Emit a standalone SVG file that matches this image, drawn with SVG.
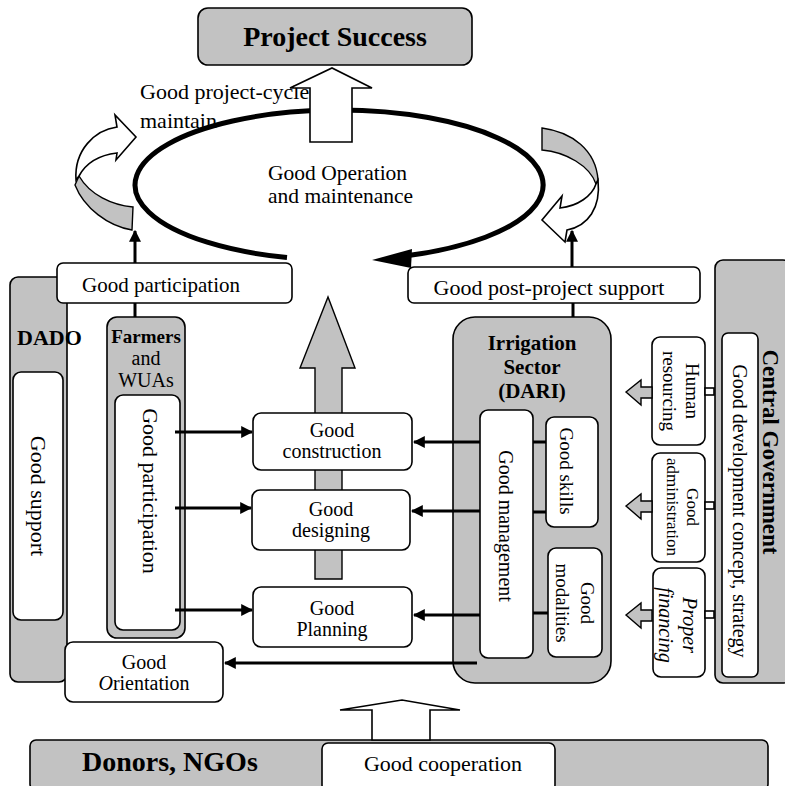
<svg xmlns="http://www.w3.org/2000/svg" width="785" height="786" viewBox="0 0 785 786">
<defs>
<style>
.bg{fill:#ffffff}
.panel{fill:#c2c2c2;stroke:#000;stroke-width:1.6}
.box{fill:#fff;stroke:#000;stroke-width:1.6}
.t{font-family:"Liberation Serif","Times New Roman",serif;fill:#000}
.b{font-weight:bold}
.mid{text-anchor:middle}
.ln{stroke:#000;stroke-width:3;fill:none}
.thin{stroke:#000;stroke-width:1.6;fill:none}
.hollow{fill:#fff;stroke:#000;stroke-width:1.6}
.garrow{fill:#c2c2c2;stroke:#000;stroke-width:1.4}
</style>
<marker id="ah" viewBox="0 0 10 10" refX="9" refY="5" markerWidth="4" markerHeight="4" orient="auto" markerUnits="strokeWidth">
<path d="M0,0 L10,5 L0,10 Z" fill="#000"/>
</marker>
</defs>
<rect class="bg" x="0" y="0" width="785" height="786"/>

<g id="project-success">
<rect class="panel" x="198" y="8" width="274" height="57" rx="10"/>
<text class="t b mid" x="335" y="46" font-size="28">Project Success</text>
</g>

<g id="cycle-label">
<text class="t" x="140" y="99" font-size="22">Good project-cycle</text>
<text class="t" x="140" y="128" font-size="22">maintain</text>
</g>

<g id="om-cycle">
<path d="M287,257.5 A204,75 0 1 1 410,255.3" fill="none" stroke="#000" stroke-width="5"/>
<polygon points="372,260 412,249 411,268" fill="#000"/>
<text class="t" x="268" y="180" font-size="21.5">Good Operation</text>
<text class="t" x="268" y="203" font-size="21.5">and maintenance</text>
</g>

<g id="left-curl">
<path class="garrow" d="M133,207 C112,205 90,195 79,176 L75,185 C84,208 108,226 132,230 Z"/>
<path class="hollow" d="M76,180 C74,150 95,130 117,127 L115,115 L136,137 L116,160 L117,153 C100,155 86,163 79,176 Z"/>
</g>

<g id="right-curl">
<path class="garrow" d="M542,128 C572,132 596,150 598,180 L596,184 C590,166 566,152 542,150 Z"/>
<path class="hollow" d="M598,180 C601,208 588,226 567,230 L565,242 L542,220 L562,196 L560,208 C578,206 592,196 596,184 Z"/>
</g>

<g id="ps-arrow">
<polygon class="hollow" points="310,142 310,88 290,88 332,68 372,88 352,88 352,142"/>
</g>

<g id="dado">
<rect class="panel" x="10" y="277" width="57" height="405" rx="8"/>
<text class="t b" x="17" y="345" font-size="22">DADO</text>
<rect class="box" x="13" y="372" width="50" height="248" rx="8"/>
<text class="t mid" transform="translate(31,496) rotate(90)" font-size="22">Good support</text>
</g>

<g id="farmers">
<rect class="panel" x="107" y="317" width="78" height="321" rx="10"/>
<text class="t b mid" x="146" y="343" font-size="19">Farmers</text>
<text class="t mid" x="146" y="365" font-size="20">and</text>
<text class="t mid" x="146" y="387" font-size="20">WUAs</text>
<rect class="box" x="115" y="395" width="65" height="235" rx="8"/>
<text class="t mid" transform="translate(143,491) rotate(90)" font-size="22">Good participation</text>
</g>

<g id="irrigation">
<rect class="panel" x="453" y="317" width="158" height="366" rx="22"/>
<text class="t b mid" x="532" y="350" font-size="21">Irrigation</text>
<text class="t b mid" x="532" y="374" font-size="21">Sector</text>
<text class="t b mid" x="532" y="398" font-size="21">(DARI)</text>
<rect class="box" x="480" y="410" width="53" height="248" rx="8"/>
<text class="t mid" transform="translate(499,526) rotate(90)" font-size="20">Good management</text>
<rect class="box" x="546" y="417" width="52" height="110" rx="8"/>
<text class="t mid" transform="translate(560,471) rotate(90)" font-size="19">Good skills</text>
<rect class="box" x="548" y="548" width="54" height="109" rx="8"/>
<text class="t mid" transform="translate(581,603) rotate(90)" font-size="19">Good</text>
<text class="t mid" transform="translate(556,603) rotate(90)" font-size="19">modalities</text>
</g>

<g id="central-government">
<rect class="panel" x="715" y="260" width="76" height="423" rx="8"/>
<rect class="box" x="722" y="333" width="36" height="344" rx="6"/>
<text class="t mid" transform="translate(733,511) rotate(90)" font-size="20">Good development concept, strategy</text>
<text class="t b mid" transform="translate(763,452) rotate(90)" font-size="23">Central Government</text>
</g>

<g id="human-resourcing">
<rect class="box" x="652" y="337" width="53" height="108" rx="8"/>
<text class="t mid" transform="translate(686,391) rotate(90)" font-size="19">Human</text>
<text class="t mid" transform="translate(663,391) rotate(90)" font-size="19">resourcing</text>
</g>

<g id="good-administration">
<rect class="box" x="652" y="453" width="53" height="109" rx="8"/>
<text class="t mid" transform="translate(687,507) rotate(90)" font-size="17">Good</text>
<text class="t mid" transform="translate(667,507) rotate(90)" font-size="17">administration</text>
</g>

<g id="proper-financing">
<rect class="box" x="653" y="568" width="52" height="109" rx="8"/>
<text class="t mid" transform="translate(683,625) rotate(90)" font-size="20" font-style="italic">Proper</text>
<text class="t mid" transform="translate(659,625) rotate(90)" font-size="20" font-style="italic">financing</text>
</g>

<g id="center-arrow">
<polygon class="garrow" points="315,579 315,368 300,368 328,297 355,368 342,368 342,579"/>
</g>

<g id="good-participation">
<rect class="box" x="57" y="263" width="235" height="40" rx="6"/>
<text class="t mid" x="161" y="292" font-size="21">Good participation</text>
</g>

<g id="post-project-support">
<rect class="box" x="408" y="267" width="292" height="36" rx="6"/>
<text class="t mid" x="549" y="295" font-size="22">Good post-project support</text>
</g>

<g id="good-construction">
<rect class="box" x="253" y="413" width="159" height="57" rx="8"/>
<text class="t mid" x="332" y="437" font-size="20">Good</text>
<text class="t mid" x="332" y="458" font-size="20">construction</text>
</g>

<g id="good-designing">
<rect class="box" x="252" y="490" width="158" height="60" rx="8"/>
<text class="t mid" x="331" y="516" font-size="20">Good</text>
<text class="t mid" x="331" y="537" font-size="20">designing</text>
</g>

<g id="good-planning">
<rect class="box" x="253" y="587" width="159" height="60" rx="8"/>
<text class="t mid" x="332" y="615" font-size="20">Good</text>
<text class="t mid" x="332" y="636" font-size="20">Planning</text>
</g>

<g id="good-orientation">
<rect class="box" x="65" y="642" width="158" height="60" rx="8"/>
<text class="t mid" x="144" y="669" font-size="20">Good</text>
<text class="t mid" x="144" y="690" font-size="20"><tspan font-style="italic">O</tspan>rientation</text>
</g>

<g id="donors">
<rect class="panel" x="30" y="740" width="738" height="50" rx="6"/>
<text class="t b" x="82" y="771" font-size="28">Donors, NGOs</text>
</g>

<g id="good-cooperation">
<rect class="box" x="322" y="743" width="233" height="48" rx="6"/>
<text class="t mid" x="443" y="771" font-size="22">Good cooperation</text>
</g>

<g id="connectors">
<line class="ln" x1="135" y1="263" x2="135" y2="231" marker-end="url(#ah)"/>
<line class="ln" x1="572" y1="267" x2="572" y2="231" marker-end="url(#ah)"/>
<line class="ln" x1="135" y1="303" x2="135" y2="317"/>
<line class="ln" x1="573" y1="303" x2="573" y2="317"/>
<line class="ln" x1="175" y1="432" x2="252" y2="432" marker-end="url(#ah)"/>
<line class="ln" x1="175" y1="508" x2="251" y2="508" marker-end="url(#ah)"/>
<line class="ln" x1="175" y1="610" x2="252" y2="610" marker-end="url(#ah)"/>
<line class="ln" x1="480" y1="442" x2="414" y2="442" marker-end="url(#ah)"/>
<line class="ln" x1="480" y1="511" x2="412" y2="511" marker-end="url(#ah)"/>
<line class="ln" x1="480" y1="615" x2="414" y2="615" marker-end="url(#ah)"/>
<line class="ln" x1="477" y1="663" x2="225" y2="663" marker-end="url(#ah)"/>
<line class="ln" x1="533" y1="442" x2="546" y2="442"/>
<line class="ln" x1="533" y1="512" x2="546" y2="512"/>
<line class="ln" x1="533" y1="613" x2="548" y2="613"/>
<rect class="hollow" x="705" y="388" width="9" height="7"/>
<rect class="hollow" x="705" y="502" width="9" height="7"/>
<rect class="hollow" x="705" y="611" width="9" height="7"/>
<polygon class="garrow" points="626,392 641,380 641,387 652,387 652,398 641,398 641,405"/>
<polygon class="garrow" points="626,506 641,494 641,501 652,501 652,512 641,512 641,519"/>
<polygon class="garrow" points="626,615 641,603 641,610 652,610 652,621 641,621 641,628"/>
<polygon class="hollow" points="372,740 372,710 340,710 402,700 460,710 430,710 430,740"/>
</g>
</svg>
